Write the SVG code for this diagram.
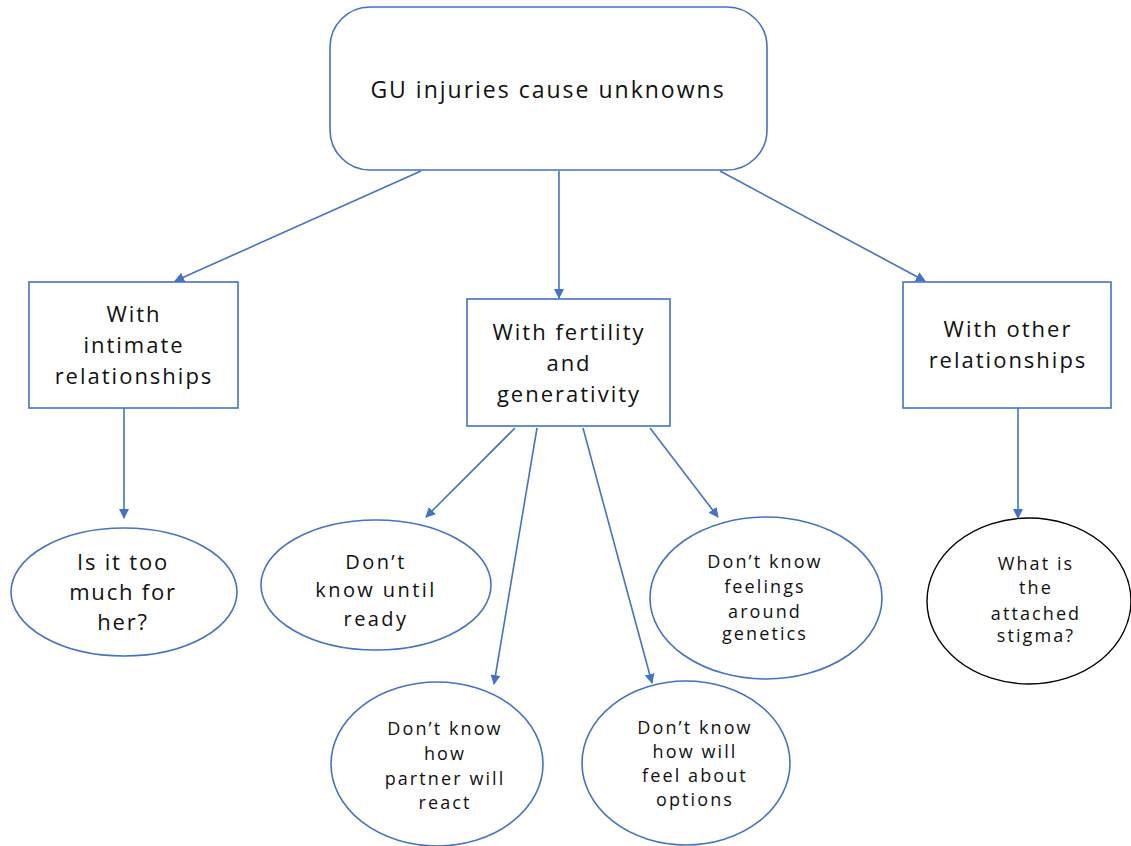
<svg xmlns="http://www.w3.org/2000/svg" width="1131" height="846" viewBox="0 0 1131 846">
<style>
.n{fill:#fff;stroke:#4472C4;stroke-width:1.6}
.k{fill:#fff;stroke:#000;stroke-width:1.4}
text{font-family:"Open Sans","DejaVu Sans",sans-serif;fill:#111;text-anchor:middle}
.t1{font-size:23px;letter-spacing:2px}
.t2{font-size:22px;letter-spacing:2px}
.t4{font-size:22px;letter-spacing:1.8px}
.t5{font-size:20px;letter-spacing:2.4px}
.t3{font-size:18px;letter-spacing:2.1px}
.c{stroke:#4472C4;stroke-width:1.6;fill:none;marker-end:url(#a)}
</style>
<defs>
<marker id="a" viewBox="0 0 10 10" refX="9" refY="5" markerWidth="10" markerHeight="10" markerUnits="userSpaceOnUse" orient="auto">
<path d="M0,0 L10,5 L0,10 z" fill="#4472C4"/>
</marker>
</defs>
<g id="connectors">
<line class="c" x1="421" y1="171" x2="175" y2="281"/>
<line class="c" x1="559" y1="171" x2="559" y2="298"/>
<line class="c" x1="720" y1="171" x2="925" y2="281"/>
<line class="c" x1="124" y1="408" x2="124" y2="518"/>
<line class="c" x1="1018" y1="408" x2="1018" y2="518"/>
<line class="c" x1="515" y1="428" x2="426" y2="517"/>
<line class="c" x1="537" y1="428" x2="494" y2="684"/>
<line class="c" x1="583" y1="428" x2="652" y2="683"/>
<line class="c" x1="650" y1="428" x2="718" y2="517"/>
</g>
<g id="root">
<rect class="n" x="330" y="7" width="437" height="163" rx="40"/>
<text class="t1" x="548" y="98">GU injuries cause unknowns</text>
</g>
<g id="intimate">
<rect class="n" x="29" y="282" width="209" height="126"/>
<text class="t2" x="134" y="322">With</text>
<text class="t2" x="134" y="353">intimate</text>
<text class="t2" x="134" y="384">relationships</text>
</g>
<g id="fertility">
<rect class="n" x="467" y="299" width="203" height="127"/>
<text class="t2" x="569" y="340">With fertility</text>
<text class="t2" x="569" y="371">and</text>
<text class="t2" x="569" y="402">generativity</text>
</g>
<g id="other">
<rect class="n" x="903" y="282" width="208" height="126"/>
<text class="t2" x="1008" y="337">With other</text>
<text class="t2" x="1008" y="368">relationships</text>
</g>
<g id="toomuch">
<ellipse class="n" cx="124" cy="592" rx="113" ry="64"/>
<text class="t4" x="123" y="570">Is it too</text>
<text class="t4" x="123" y="600">much for</text>
<text class="t4" x="123" y="630">her?</text>
</g>
<g id="untilready">
<ellipse class="n" cx="376" cy="585" rx="115" ry="65"/>
<text class="t5" x="376" y="569">Don’t</text>
<text class="t5" x="376" y="597">know until</text>
<text class="t5" x="376" y="626">ready</text>
</g>
<g id="genetics">
<ellipse class="n" cx="766" cy="598" rx="116" ry="81"/>
<text class="t3" x="765" y="568">Don’t know</text>
<text class="t3" x="765" y="593">feelings</text>
<text class="t3" x="765" y="618">around</text>
<text class="t3" x="765" y="640">genetics</text>
</g>
<g id="stigma">
<ellipse class="k" cx="1029" cy="601" rx="102" ry="83"/>
<text class="t3" x="1036" y="570">What is</text>
<text class="t3" x="1036" y="594">the</text>
<text class="t3" x="1036" y="620">attached</text>
<text class="t3" x="1036" y="642">stigma?</text>
</g>
<g id="partner">
<ellipse class="n" cx="437" cy="764" rx="106" ry="82"/>
<text class="t3" x="445" y="735">Don’t know</text>
<text class="t3" x="445" y="760">how</text>
<text class="t3" x="445" y="785">partner will</text>
<text class="t3" x="445" y="809">react</text>
</g>
<g id="options">
<ellipse class="n" cx="686" cy="763" rx="104" ry="82"/>
<text class="t3" x="695" y="734">Don’t know</text>
<text class="t3" x="695" y="758">how will</text>
<text class="t3" x="695" y="782">feel about</text>
<text class="t3" x="695" y="806">options</text>
</g>
</svg>
